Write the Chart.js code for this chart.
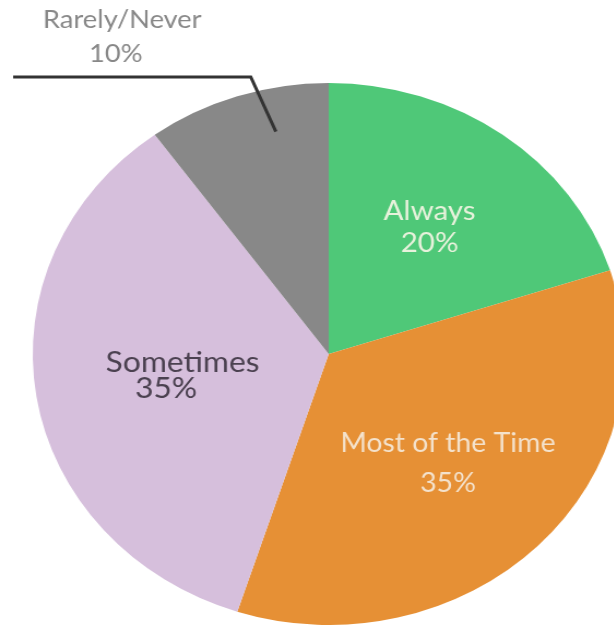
<!DOCTYPE html>
<html>
<head>
<meta charset="utf-8">
<script src="https://cdn.jsdelivr.net/npm/chart.js@4/dist/chart.umd.min.js"></script>
<style>
  html, body { margin: 0; padding: 0; background: #fff; overflow: hidden; }
  /* the original picture is a bit wider than tall, so the canvas is stretched */
  #pie { display: block; transform: scaleX(1.092); transform-origin: 0 0; }
</style>
</head>
<body>
<canvas id="pie" width="600" height="625"></canvas>
<script>
// data
const categories = ['Always', 'Most of the Time', 'Sometimes', 'Rarely/Never'];
const shares = [20, 35, 35, 10];
const sliceColors = ['#4fc878', '#e69035', '#d6bfdc', '#888888'];

// look of each slice label (inside labels first, the last one sits outside)
const labelLook = [
  { color: '#e8f2dc', size: 27, dist: 0.58, gap: 32, valueShift: 0 },
  { color: '#f4e2cc', size: 26, dist: 0.57, gap: 40, valueShift: 0 },
  { color: '#4b4150', size: 29, dist: 0.50, gap: 26, valueShift: -15 },
  { color: '#888888', size: 25 }
];

const sliceLabels = {
  id: 'sliceLabels',
  afterDatasetsDraw(chart) {
    const ctx = chart.ctx;
    const arcs = chart.getDatasetMeta(0).data;
    ctx.save();
    ctx.textAlign = 'center';
    ctx.textBaseline = 'middle';

    arcs.forEach((arc, i) => {
      const { x, y, startAngle, endAngle, outerRadius } =
        arc.getProps(['x', 'y', 'startAngle', 'endAngle', 'outerRadius'], true);
      const mid = (startAngle + endAngle) / 2;
      const look = labelLook[i];
      const pct = shares[i] + '%';
      ctx.fillStyle = look.color;
      ctx.font = look.size + 'px Lato, "Open Sans", sans-serif';

      if (i < 3) {
        const px = x + Math.cos(mid) * outerRadius * look.dist;
        const py = y + Math.sin(mid) * outerRadius * look.dist;
        ctx.fillText(categories[i], px, py - look.gap / 2);
        ctx.fillText(pct, px + look.valueShift, py + look.gap / 2);
      } else {
        // leader line from the slice up to the label
        const a = mid + 0.1;
        const ex = x + Math.cos(a) * outerRadius * 0.84;
        const ey = y + Math.sin(a) * outerRadius * 0.84;
        const lineY = chart.chartArea.top - 6;
        ctx.strokeStyle = '#333333';
        ctx.lineWidth = 3;
        ctx.beginPath();
        ctx.moveTo(ex, ey);
        ctx.lineTo(ex - 23, lineY);
        ctx.lineTo(12, lineY);
        ctx.stroke();

        ctx.fillStyle = look.color;
        ctx.textBaseline = 'alphabetic';
        ctx.fillText(categories[i], 112, 28);
        ctx.fillText(pct, 106, 62);
        ctx.textBaseline = 'middle';
      }
    });
    ctx.restore();
  }
};

const chart = new Chart(document.getElementById('pie'), {
  type: 'pie',
  data: {
    labels: categories,
    datasets: [{
      data: shares,
      backgroundColor: sliceColors,
      borderWidth: 0
    }]
  },
  options: {
    responsive: false,
    animation: false,
    layout: { padding: { left: 30, right: 28, top: 83, bottom: 0 } },
    plugins: {
      legend: { display: false },
      tooltip: { enabled: false }
    }
  },
  plugins: [sliceLabels]
});
</script>
</body>
</html>
